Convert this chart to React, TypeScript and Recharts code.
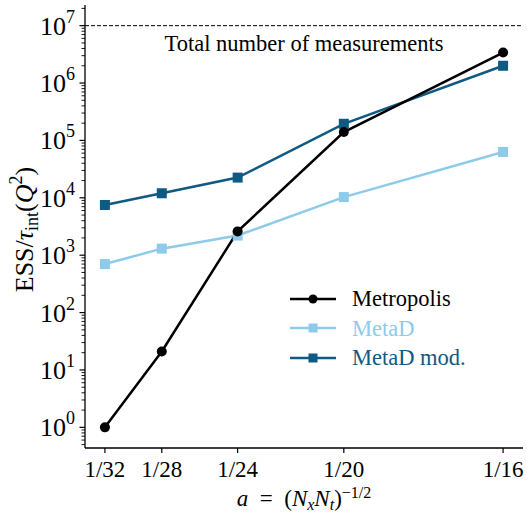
import React from 'react';
import { LineChart, Line, XAxis, YAxis, ReferenceLine } from 'recharts';

const xValues = [1 / 32, 1 / 28, 1 / 24, 1 / 20, 1 / 16];
const xTickLabels = ['1/32', '1/28', '1/24', '1/20', '1/16'];
const metropolis = [1, 21, 2600, 140000, 3400000];
const metaD = [700, 1300, 2200, 10300, 63000];
const metaDMod = [7500, 12000, 22500, 195000, 2000000];
const totalMeasurements = 1e7;
const yMajorTicks = [1, 10, 100, 1000, 1e4, 1e5, 1e6, 1e7];
const seriesNames = ['Metropolis', 'MetaD', 'MetaD mod.'];
const seriesColors = ['#000000', '#8ecbea', '#0e5a82'];

const FONT = '"Liberation Serif", "DejaVu Serif", serif';

const data = xValues.map((a, i) => ({
  a,
  metropolis: metropolis[i],
  metaD: metaD[i],
  metaDMod: metaDMod[i],
}));

const yMin = Math.pow(10, -0.36);
const yMax = Math.pow(10, 7.36);
const xMin = xValues[0] - 0.05 * (xValues[4] - xValues[0]);
const xMax = xValues[4] + 0.05 * (xValues[4] - xValues[0]);

const yTicks: number[] = [];
for (let k = -1; k <= 7; k++) {
  for (let m = 1; m <= 9; m++) {
    const v = m * Math.pow(10, k);
    if (v >= yMin && v <= yMax) yTicks.push(v);
  }
}

const YTick = (props: any) => {
  const { x, y, payload } = props;
  const v = payload.value;
  const lg = Math.log10(v);
  const exp = Math.round(lg);
  const major = Math.abs(lg - exp) < 1e-6 && yMajorTicks.includes(Math.pow(10, exp));
  return (
    <g>
      <line x1={x} x2={x - (major ? 5.5 : 3.5)} y1={y} y2={y} stroke="#000" strokeWidth={major ? 1.2 : 0.9} />
      {major && (
        <text x={x - 45} y={y + 9} textAnchor="start" fontFamily={FONT} fontSize={26} fill="#000">
          10
          <tspan dy={-12} fontSize={18}>{exp}</tspan>
        </text>
      )}
    </g>
  );
};

const XTick = (props: any) => {
  const { x, y, index } = props;
  return (
    <g>
      <line x1={x} x2={x} y1={y} y2={y + 5} stroke="#000" strokeWidth={1.2} />
      <text x={x} y={y + 29} textAnchor="middle" fontFamily={FONT} fontSize={23} fill="#000">
        {xTickLabels[index] ?? ''}
      </text>
    </g>
  );
};

const XLabel = (props: any) => {
  const vb = props.viewBox || { x: 85, y: 448, width: 438, height: 68 };
  const cx = vb.x + vb.width / 2;
  const y = vb.y + 58;
  return (
    <text x={cx} y={y} textAnchor="middle" fontFamily={FONT} fontSize={23} fill="#000">
      <tspan fontStyle="italic">a</tspan>
      <tspan>{'\u2002=\u2002('}</tspan>
      <tspan fontStyle="italic">N</tspan>
      <tspan fontStyle="italic" fontSize={16} dy={4}>x</tspan>
      <tspan fontStyle="italic" dy={-4}>N</tspan>
      <tspan fontStyle="italic" fontSize={16} dy={4}>t</tspan>
      <tspan dy={-4}>)</tspan>
      <tspan fontSize={16} dy={-8}>−1/2</tspan>
    </text>
  );
};

const YLabel = (props: any) => {
  const vb = props.viewBox || { x: 0, y: 5, width: 85, height: 443 };
  const cy = vb.y + vb.height / 2 + 3;
  const x = 33;
  return (
    <text
      x={x}
      y={cy}
      transform={`rotate(-90, ${x}, ${cy})`}
      textAnchor="middle"
      fontFamily={FONT}
      fontSize={26}
      fill="#000"
    >
      <tspan>ESS/</tspan>
      <tspan fontStyle="italic">τ</tspan>
      <tspan fontSize={18} dy={5}>int</tspan>
      <tspan dy={-5}>(</tspan>
      <tspan fontStyle="italic">Q</tspan>
      <tspan fontSize={18} dy={-11}>2</tspan>
      <tspan dy={11}>)</tspan>
    </text>
  );
};

const RefLabel = (props: any) => {
  const vb = props.viewBox || { x: 85, y: 25, width: 438 };
  return (
    <text x={vb.x + vb.width / 2} y={vb.y + 25} textAnchor="middle" fontFamily={FONT} fontSize={22.5} fill="#000">
      Total number of measurements
    </text>
  );
};

const LegendBox = () => (
  <div style={{ position: 'absolute', left: 288, top: 284, fontFamily: FONT, fontSize: 22.5, lineHeight: '29px' }}>
    {seriesNames.map((name, i) => (
      <div key={name} style={{ display: 'flex', alignItems: 'center', height: 29.5 }}>
        <svg width={50} height={14} style={{ marginRight: 14 }}>
          <line x1={2} x2={48} y1={7} y2={7} stroke={seriesColors[i]} strokeWidth={2.5} />
          {i === 0 ? (
            <circle cx={25} cy={7} r={4.5} fill={seriesColors[i]} />
          ) : (
            <rect x={20.5} y={2.5} width={9} height={9} fill={seriesColors[i]} />
          )}
        </svg>
        <span style={{ color: seriesColors[i] }}>{name}</span>
      </div>
    ))}
  </div>
);

const Square = (props: any) => {
  const { cx, cy, stroke } = props;
  if (cx == null || cy == null) return null;
  return <rect x={cx - 5} y={cy - 5} width={10} height={10} fill={stroke} />;
};

const Dot = (props: any) => {
  const { cx, cy } = props;
  if (cx == null || cy == null) return null;
  return <circle cx={cx} cy={cy} r={5} fill="#000" />;
};

export default function App() {
  return (
    <div style={{ position: 'absolute', left: 0, top: 0, width: 527, height: 516, background: '#fff' }}>
      <LineChart width={527} height={516} data={data} margin={{ top: 5, right: 4, left: 0, bottom: 0 }}>
        <XAxis
          dataKey="a"
          type="number"
          domain={[xMin, xMax]}
          ticks={xValues}
          interval={0}
          allowDataOverflow
          tickSize={0}
          tickMargin={0}
          tickLine={false}
          tick={<XTick />}
          axisLine={{ stroke: '#000', strokeWidth: 1.3 }}
          height={68}
          label={<XLabel />}
        />
        <XAxis
          xAxisId="top"
          orientation="top"
          dataKey="a"
          type="number"
          domain={[xMin, xMax]}
          allowDataOverflow
          tick={false}
          tickLine={false}
          axisLine={{ stroke: '#000', strokeWidth: 1.3 }}
          height={0}
        />
        <YAxis
          type="number"
          scale="log"
          domain={[yMin, yMax]}
          ticks={yTicks}
          interval={0}
          minTickGap={0}
          allowDataOverflow
          tickSize={0}
          tickMargin={0}
          tickLine={false}
          tick={<YTick />}
          axisLine={{ stroke: '#000', strokeWidth: 1.3 }}
          width={85}
          label={<YLabel />}
        />
        <YAxis
          yAxisId="right"
          orientation="right"
          type="number"
          scale="log"
          domain={[yMin, yMax]}
          allowDataOverflow
          tick={false}
          tickLine={false}
          axisLine={{ stroke: '#000', strokeWidth: 1.3 }}
          width={0}
        />
        <ReferenceLine
          y={totalMeasurements}
          stroke="#000"
          strokeWidth={1}
          strokeDasharray="4 2"
          label={<RefLabel />}
        />
        <Line
          dataKey="metaD"
          name={seriesNames[1]}
          stroke={seriesColors[1]}
          strokeWidth={2.5}
          dot={<Square />}
          isAnimationActive={false}
        />
        <Line
          dataKey="metaDMod"
          name={seriesNames[2]}
          stroke={seriesColors[2]}
          strokeWidth={2.5}
          dot={<Square />}
          isAnimationActive={false}
        />
        <Line
          dataKey="metropolis"
          name={seriesNames[0]}
          stroke={seriesColors[0]}
          strokeWidth={2.5}
          dot={<Dot />}
          isAnimationActive={false}
        />
      </LineChart>
      <LegendBox />
    </div>
  );
}
